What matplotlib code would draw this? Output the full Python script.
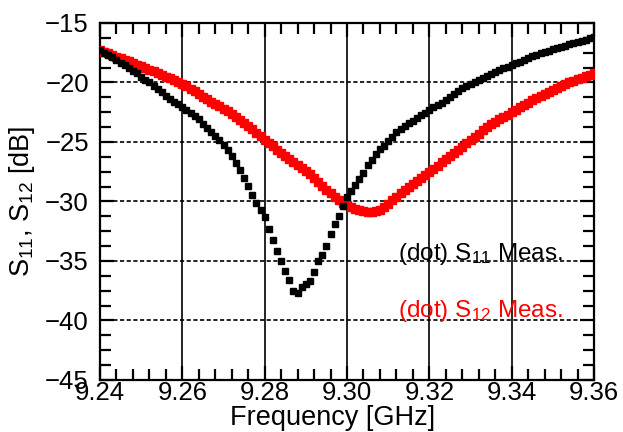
import numpy as np
import matplotlib
matplotlib.use("Agg")
import matplotlib.pyplot as plt
from matplotlib.ticker import MultipleLocator

plt.rcParams['font.family'] = ['Liberation Sans', 'DejaVu Sans']
plt.rcParams['mathtext.fontset'] = 'custom'
plt.rcParams['mathtext.rm'] = 'Liberation Sans'
plt.rcParams['mathtext.it'] = 'Liberation Sans'

# sweep 9.24 .. 9.36 GHz, 1 MHz step
freq = np.linspace(9.24, 9.36, 121)

s11 = [-17.3, -17.5, -17.7, -17.9, -18.1, -18.35, -18.55, -18.8, -19.0, -19.2,
       -19.5, -19.75, -20.0, -20.3, -20.55, -20.8, -21.1, -21.35, -21.6, -21.85,
       -22.1, -22.35, -22.6, -22.85, -23.1, -23.45, -23.8, -24.15, -24.5, -24.85,
       -25.25, -25.7, -26.2, -26.8, -27.35, -28.0, -28.7, -29.45, -30.1, -30.7,
       -31.3, -32.3, -33.2, -34.2, -35.0, -35.8, -36.6, -37.5, -37.7, -37.2,
       -36.9, -36.7, -35.9, -35.0, -34.5, -33.7, -32.7, -31.9, -31.2, -30.4,
       -29.6, -29.1, -28.6, -28.1, -27.6, -26.9, -26.5, -26.0, -25.6, -25.3,
       -24.95, -24.6, -24.2, -23.95, -23.65, -23.4, -23.2, -23.0, -22.75, -22.55,
       -22.3, -22.1, -21.9, -21.7, -21.45, -21.2, -21.0, -20.75, -20.5, -20.3,
       -20.1, -19.95, -19.8, -19.6, -19.45, -19.3, -19.1, -18.95, -18.8, -18.7,
       -18.55, -18.4, -18.25, -18.1, -17.95, -17.8, -17.65, -17.55, -17.45, -17.35,
       -17.2, -17.1, -17.0, -16.9, -16.8, -16.7, -16.6, -16.5, -16.4, -16.3,
       -16.2]

s12 = [-17.3, -17.42, -17.55, -17.68, -17.82, -17.95, -18.1, -18.23, -18.37, -18.5,
       -18.65, -18.8, -18.93, -19.07, -19.2, -19.35, -19.5, -19.65, -19.8, -19.95,
       -20.1, -20.32, -20.53, -20.75, -20.97, -21.2, -21.4, -21.6, -21.8, -22.0,
       -22.2, -22.43, -22.67, -22.9, -23.15, -23.4, -23.68, -23.95, -24.23, -24.5,
       -24.8, -25.08, -25.36, -25.64, -25.92, -26.2, -26.44, -26.68, -26.92, -27.16,
       -27.4, -27.72, -28.05, -28.37, -28.7, -29.0, -29.3, -29.6, -29.85, -30.1,
       -30.3, -30.45, -30.6, -30.72, -30.8, -30.85, -30.85, -30.8, -30.7, -30.5,
       -30.2, -29.9, -29.6, -29.3, -29.0, -28.75, -28.5, -28.25, -28.0, -27.75,
       -27.5, -27.25, -26.98, -26.72, -26.46, -26.2, -25.93, -25.66, -25.39, -25.12,
       -24.85, -24.57, -24.3, -24.03, -23.76, -23.5, -23.3, -23.1, -22.9, -22.7,
       -22.5, -22.3, -22.1, -21.9, -21.7, -21.5, -21.32, -21.14, -20.96, -20.78,
       -20.6, -20.45, -20.3, -20.15, -20.0, -19.85, -19.72, -19.59, -19.46, -19.33,
       -19.2]

fig = plt.figure(figsize=(6.23, 4.32), dpi=100)
ax = fig.add_axes([0.1605, 0.1204, 0.793, 0.8264])

ax.plot(freq, s12, 's', color='red', ms=5.8, mec='red', zorder=3)
ax.plot(freq, s11, 's', color='black', ms=4.2, mec='black', zorder=4)

ax.set_xlim(9.24, 9.36)
ax.set_ylim(-45, -15)
ax.xaxis.set_minor_locator(MultipleLocator(0.004))
ax.yaxis.set_major_locator(MultipleLocator(5))
ax.yaxis.set_minor_locator(MultipleLocator(1.25))
ax.set_xticks(np.arange(9.24, 9.361, 0.02))
ax.set_xticklabels(['9.24', '9.26', '9.28', '9.30', '9.32', '9.34', '9.36'])

ax.tick_params(which='both', direction='in', top=True, right=True, width=1.6, labelsize=18.5)
ax.tick_params(which='major', length=10)
ax.tick_params(which='minor', length=8)
ax.tick_params(axis='x', pad=1)
ax.tick_params(axis='y', pad=8)

ax.xaxis.grid(True, which='major', color='black', lw=1.2, ls='-')
ax.yaxis.grid(True, which='major', color='black', lw=1.2, ls=(0, (2.5, 1.5)))
ax.set_axisbelow(True)
for sp in ax.spines.values():
    sp.set_linewidth(1.6)

ax.set_xlabel('Frequency [GHz]', fontsize=19.5)
ax.xaxis.set_label_coords(0.47, -0.07, transform=ax.transAxes)
ax.xaxis.label.set_va('top')
ax.set_ylabel('S$_{11}$, S$_{12}$ [dB]', fontsize=19.5, labelpad=6)

ax.text(9.3124, -34.95, '(dot) S$_{11}$ Meas.', color='black', fontsize=17.5, va='baseline')
ax.text(9.3124, -39.7, '(dot) S$_{12}$ Meas.', color='red', fontsize=17.5, va='baseline')

fig.savefig('out.png', dpi=100)
